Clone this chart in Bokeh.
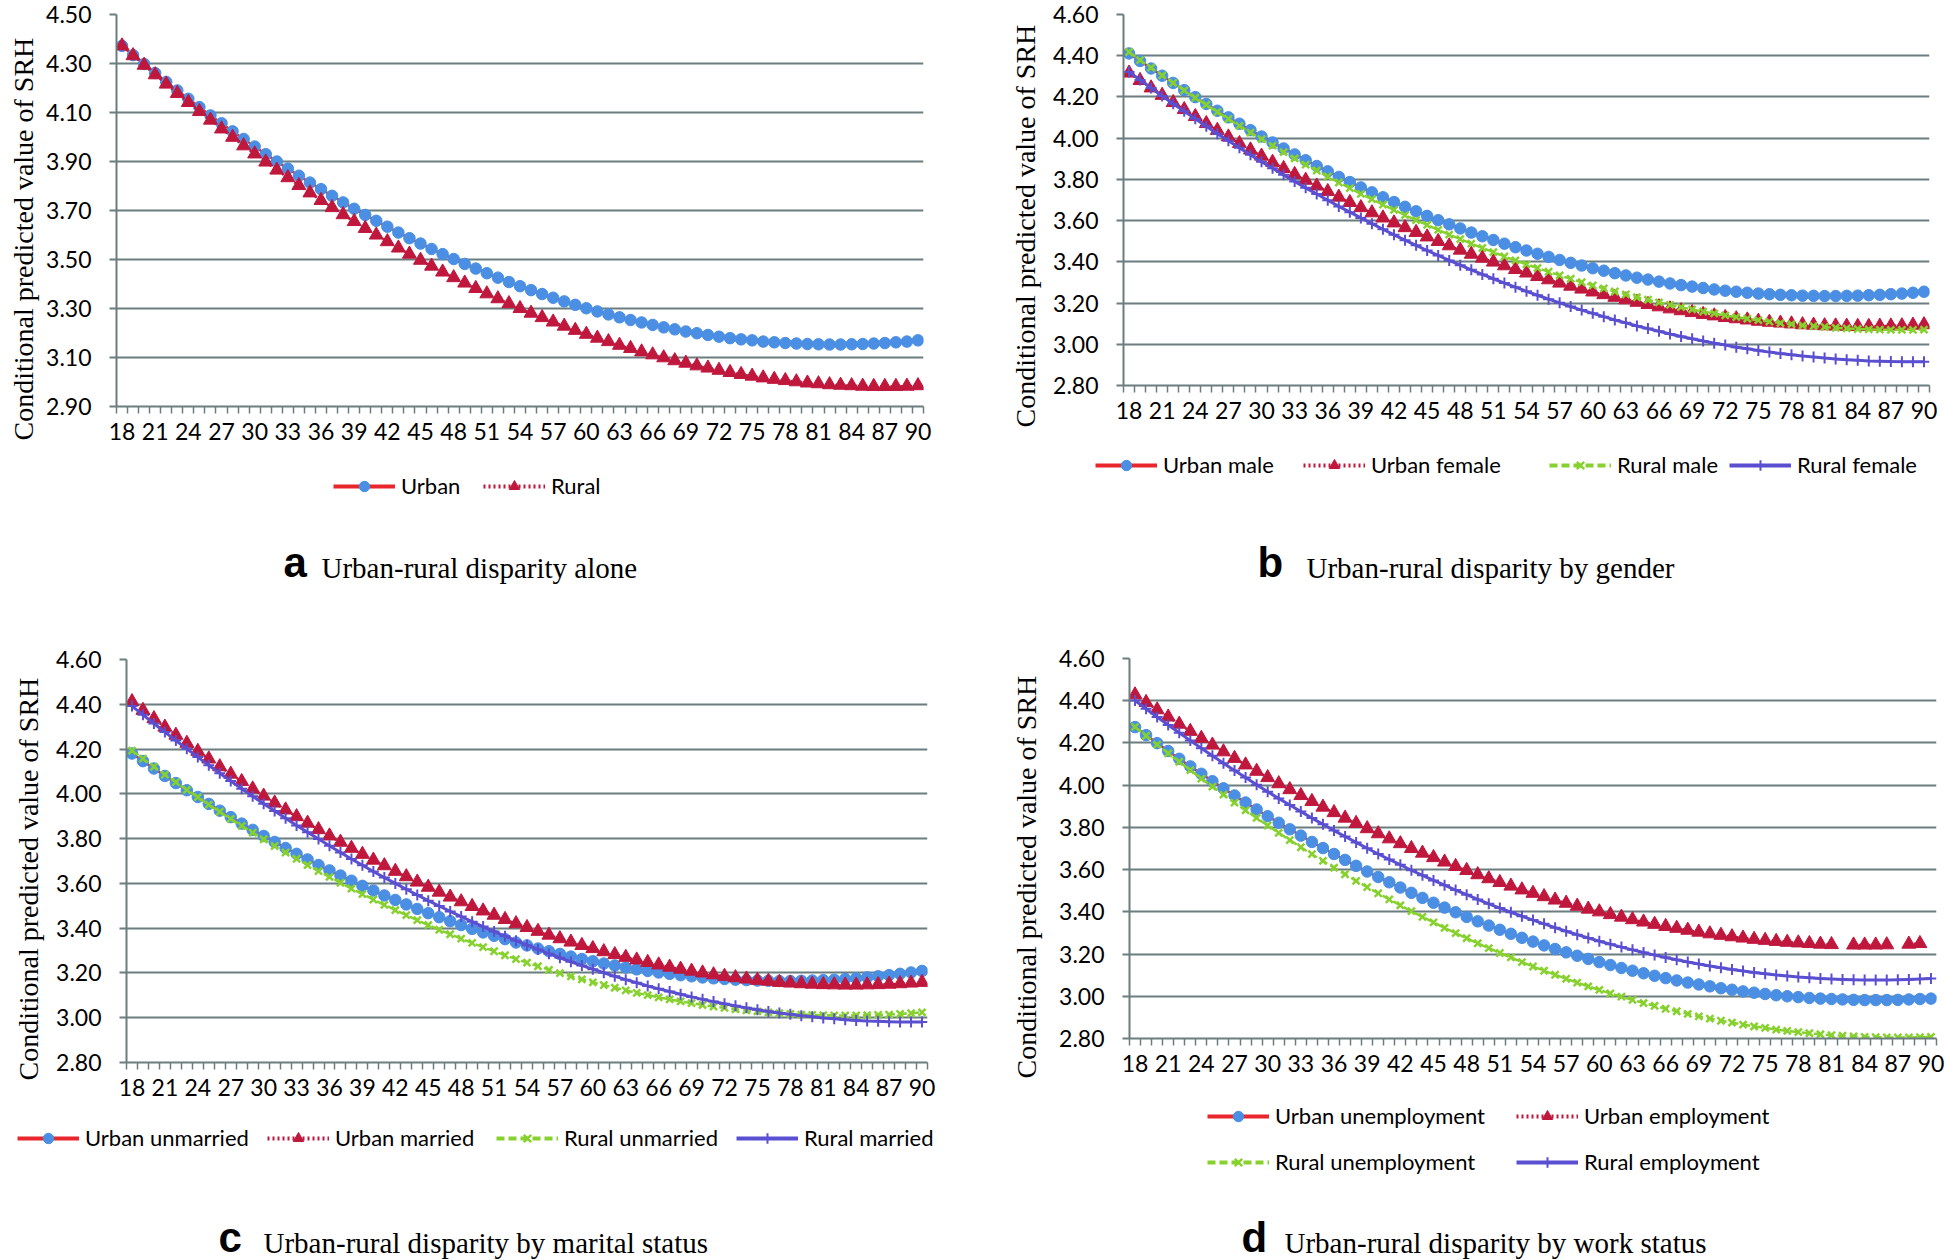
from bokeh.plotting import figure
from bokeh.models import (ColumnDataSource, Range1d, FixedTicker, NumeralTickFormatter,
                          Legend, LegendItem, Title)
from bokeh.core.properties import value
from bokeh.layouts import row, column
from bokeh.embed import file_html
from bokeh.resources import INLINE

nan = float("nan")

# ---------------- data ----------------
ages = list(range(18, 91))
x_tick_labels = [18, 21, 24, 27, 30, 33, 36, 39, 42, 45, 48, 51, 54, 57, 60, 63,
                 66, 69, 72, 75, 78, 81, 84, 87, 90]
y_ticks_a = [2.90, 3.10, 3.30, 3.50, 3.70, 3.90, 4.10, 4.30, 4.50]
y_ticks_bcd = [2.80, 3.00, 3.20, 3.40, 3.60, 3.80, 4.00, 4.20, 4.40, 4.60]

names_a = ["Urban", "Rural"]
names_b = ["Urban male", "Urban female", "Rural male", "Rural female"]
names_c = ["Urban unmarried", "Urban married", "Rural unmarried", "Rural married"]
names_d = ["Urban unemployment", "Urban employment", "Rural unemployment", "Rural employment"]

captions = [("a", "Urban-rural disparity alone"),
            ("b", "Urban-rural disparity by gender"),
            ("c", "Urban-rural disparity by marital status"),
            ("d", "Urban-rural disparity by work status")]
y_title = "Conditional predicted value of SRH"

# panel a
a_urban = [4.372, 4.334, 4.298, 4.261, 4.225, 4.190, 4.156, 4.122, 4.088, 4.056,
           4.023, 3.992, 3.961, 3.930, 3.900, 3.871, 3.842, 3.814, 3.787, 3.760,
           3.733, 3.707, 3.682, 3.658, 3.634, 3.610, 3.587, 3.565, 3.543, 3.522,
           3.502, 3.482, 3.463, 3.444, 3.426, 3.408, 3.391, 3.375, 3.359, 3.344,
           3.329, 3.315, 3.301, 3.288, 3.276, 3.264, 3.253, 3.243, 3.233, 3.223,
           3.215, 3.206, 3.199, 3.192, 3.185, 3.179, 3.174, 3.170, 3.165, 3.162,
           3.159, 3.157, 3.155, 3.154, 3.153, 3.153, 3.154, 3.155, 3.157, 3.159,
           3.162, 3.165, 3.170]
a_rural = [4.372, 4.332, 4.293, 4.254, 4.216, 4.178, 4.141, 4.104, 4.069, 4.033,
           3.999, 3.964, 3.931, 3.898, 3.865, 3.834, 3.802, 3.772, 3.741, 3.712,
           3.683, 3.655, 3.627, 3.600, 3.573, 3.547, 3.522, 3.497, 3.473, 3.449,
           3.426, 3.404, 3.382, 3.360, 3.340, 3.320, 3.300, 3.281, 3.263, 3.245,
           3.228, 3.211, 3.195, 3.179, 3.165, 3.150, 3.137, 3.123, 3.111, 3.099,
           3.087, 3.077, 3.066, 3.057, 3.048, 3.039, 3.031, 3.024, 3.017, 3.011,
           3.006, 3.001, 2.996, 2.993, 2.989, 2.987, 2.985, 2.983, 2.982, 2.982,
           2.982, 2.983, 2.985]

# panel b
b_urban_male = [4.411, 4.375, 4.338, 4.303, 4.268, 4.233, 4.199, 4.166, 4.133, 4.101,
                4.070, 4.039, 4.008, 3.979, 3.950, 3.921, 3.893, 3.865, 3.839, 3.812,
                3.787, 3.761, 3.737, 3.713, 3.690, 3.667, 3.645, 3.623, 3.602, 3.582,
                3.562, 3.542, 3.524, 3.506, 3.488, 3.471, 3.455, 3.439, 3.424, 3.409,
                3.395, 3.382, 3.369, 3.357, 3.345, 3.334, 3.323, 3.314, 3.304, 3.295,
                3.287, 3.280, 3.273, 3.266, 3.260, 3.255, 3.250, 3.246, 3.243, 3.240,
                3.238, 3.236, 3.235, 3.234, 3.234, 3.235, 3.236, 3.238, 3.240, 3.243,
                3.246, 3.250, 3.255]
b_urban_female = [4.316, 4.280, 4.244, 4.208, 4.173, 4.139, 4.105, 4.071, 4.038, 4.006,
                  3.974, 3.943, 3.913, 3.883, 3.853, 3.824, 3.796, 3.768, 3.741, 3.714,
                  3.688, 3.663, 3.638, 3.613, 3.589, 3.566, 3.543, 3.521, 3.499, 3.478,
                  3.457, 3.437, 3.418, 3.399, 3.381, 3.363, 3.346, 3.329, 3.313, 3.297,
                  3.282, 3.268, 3.254, 3.241, 3.228, 3.216, 3.204, 3.193, 3.182, 3.172,
                  3.163, 3.154, 3.145, 3.138, 3.130, 3.124, 3.118, 3.112, 3.107, 3.103,
                  3.099, 3.095, 3.093, 3.090, 3.089, 3.088, 3.087, 3.087, 3.088, 3.089,
                  3.090, 3.093, 3.095]
b_rural_male = [4.418, 4.379, 4.342, 4.305, 4.268, 4.232, 4.196, 4.162, 4.127, 4.093,
                4.060, 4.027, 3.995, 3.964, 3.932, 3.902, 3.872, 3.843, 3.814, 3.785,
                3.758, 3.730, 3.704, 3.678, 3.652, 3.627, 3.602, 3.579, 3.555, 3.532,
                3.510, 3.488, 3.467, 3.447, 3.426, 3.407, 3.388, 3.370, 3.352, 3.334,
                3.318, 3.301, 3.286, 3.271, 3.256, 3.242, 3.228, 3.216, 3.203, 3.191,
                3.180, 3.169, 3.159, 3.150, 3.140, 3.132, 3.124, 3.117, 3.110, 3.103,
                3.098, 3.092, 3.088, 3.084, 3.080, 3.077, 3.074, 3.072, 3.071, 3.070,
                3.070, 3.070, 3.071]
b_rural_female = [4.321, 4.282, 4.243, 4.205, 4.167, 4.130, 4.094, 4.058, 4.022, 3.988,
                  3.953, 3.919, 3.886, 3.854, 3.822, 3.790, 3.759, 3.729, 3.699, 3.669,
                  3.641, 3.613, 3.585, 3.558, 3.531, 3.505, 3.480, 3.455, 3.431, 3.407,
                  3.384, 3.361, 3.339, 3.318, 3.297, 3.277, 3.257, 3.238, 3.219, 3.201,
                  3.183, 3.166, 3.150, 3.134, 3.118, 3.104, 3.089, 3.076, 3.063, 3.050,
                  3.038, 3.027, 3.016, 3.005, 2.996, 2.986, 2.978, 2.970, 2.962, 2.955,
                  2.949, 2.943, 2.938, 2.933, 2.929, 2.925, 2.922, 2.919, 2.918, 2.916,
                  2.915, 2.915, 2.915]

# panel c
c_urban_unmarried = [4.180, 4.146, 4.113, 4.080, 4.048, 4.016, 3.986, 3.955, 3.925, 3.896,
                     3.867, 3.839, 3.812, 3.785, 3.758, 3.732, 3.707, 3.682, 3.658, 3.635,
                     3.612, 3.589, 3.568, 3.546, 3.526, 3.506, 3.486, 3.467, 3.449, 3.431,
                     3.414, 3.397, 3.381, 3.366, 3.351, 3.336, 3.323, 3.309, 3.297, 3.285,
                     3.273, 3.262, 3.252, 3.242, 3.233, 3.224, 3.216, 3.209, 3.202, 3.196,
                     3.190, 3.185, 3.180, 3.176, 3.173, 3.170, 3.168, 3.166, 3.165, 3.164,
                     3.164, 3.165, 3.166, 3.168, 3.170, 3.173, 3.176, 3.180, 3.185, 3.190,
                     3.196, 3.202, 3.209]
c_urban_married = [4.412, 4.373, 4.336, 4.298, 4.262, 4.226, 4.190, 4.156, 4.121, 4.088,
                   4.055, 4.022, 3.990, 3.959, 3.928, 3.898, 3.869, 3.840, 3.812, 3.784,
                   3.757, 3.730, 3.704, 3.679, 3.654, 3.630, 3.606, 3.583, 3.561, 3.539,
                   3.518, 3.497, 3.477, 3.458, 3.439, 3.420, 3.403, 3.386, 3.369, 3.353,
                   3.338, 3.323, 3.309, 3.295, 3.282, 3.270, 3.258, 3.247, 3.236, 3.226,
                   3.217, 3.208, 3.200, 3.192, 3.185, 3.179, 3.173, 3.167, 3.163, 3.158,
                   3.155, 3.152, 3.150, 3.148, 3.147, 3.146, 3.146, 3.147, 3.148, 3.150,
                   3.152, 3.155, 3.158]
c_rural_unmarried = [4.193, 4.157, 4.121, 4.086, 4.052, 4.018, 3.985, 3.952, 3.920, 3.888,
                     3.857, 3.827, 3.797, 3.767, 3.738, 3.710, 3.682, 3.655, 3.629, 3.603,
                     3.577, 3.552, 3.528, 3.504, 3.481, 3.458, 3.436, 3.414, 3.393, 3.373,
                     3.353, 3.334, 3.315, 3.297, 3.279, 3.262, 3.246, 3.230, 3.214, 3.199,
                     3.185, 3.171, 3.158, 3.146, 3.134, 3.122, 3.111, 3.101, 3.091, 3.082,
                     3.073, 3.065, 3.057, 3.050, 3.044, 3.038, 3.033, 3.028, 3.024, 3.020,
                     3.017, 3.014, 3.013, 3.011, 3.010, 3.010, 3.010, 3.011, 3.013, 3.014,
                     3.017, 3.020, 3.024]
c_rural_married = [4.392, 4.353, 4.314, 4.276, 4.238, 4.201, 4.164, 4.128, 4.092, 4.057,
                   4.023, 3.989, 3.956, 3.923, 3.891, 3.859, 3.828, 3.798, 3.768, 3.738,
                   3.709, 3.681, 3.653, 3.626, 3.600, 3.574, 3.548, 3.523, 3.499, 3.475,
                   3.452, 3.429, 3.407, 3.385, 3.364, 3.344, 3.324, 3.305, 3.286, 3.268,
                   3.250, 3.233, 3.217, 3.201, 3.185, 3.170, 3.156, 3.142, 3.129, 3.117,
                   3.105, 3.093, 3.082, 3.072, 3.062, 3.053, 3.044, 3.036, 3.028, 3.021,
                   3.015, 3.009, 3.004, 2.999, 2.995, 2.991, 2.988, 2.985, 2.984, 2.982,
                   2.981, 2.981, 2.981]

# panel d
d_urban_unemp = [4.275, 4.237, 4.199, 4.162, 4.125, 4.089, 4.054, 4.019, 3.985, 3.951,
                 3.918, 3.885, 3.853, 3.822, 3.791, 3.761, 3.731, 3.702, 3.674, 3.646,
                 3.618, 3.591, 3.565, 3.540, 3.515, 3.490, 3.466, 3.443, 3.420, 3.398,
                 3.376, 3.355, 3.335, 3.315, 3.296, 3.277, 3.259, 3.241, 3.224, 3.208,
                 3.192, 3.177, 3.162, 3.148, 3.134, 3.121, 3.109, 3.097, 3.086, 3.075,
                 3.065, 3.056, 3.047, 3.038, 3.031, 3.023, 3.017, 3.011, 3.005, 3.000,
                 2.996, 2.992, 2.989, 2.987, 2.985, 2.983, 2.982, 2.982, 2.982, 2.983,
                 2.985, 2.987, 2.989]
d_urban_emp = [4.428, 4.392, 4.357, 4.323, 4.289, 4.255, 4.222, 4.190, 4.158, 4.127,
               4.096, 4.066, 4.036, 4.007, 3.979, 3.951, 3.923, 3.896, 3.870, 3.844,
               3.819, 3.794, 3.770, 3.746, 3.723, 3.700, 3.678, 3.657, 3.636, 3.615,
               3.596, 3.576, 3.557, 3.539, 3.522, 3.504, 3.488, 3.472, 3.456, 3.441,
               3.427, 3.413, 3.400, 3.387, 3.375, 3.363, 3.352, 3.341, 3.331, 3.322,
               3.313, 3.304, 3.296, 3.289, 3.282, 3.276, 3.270, 3.265, 3.260, 3.256,
               3.253, 3.250, 3.247, 3.245, nan, 3.243, 3.243, 3.243, 3.244, nan,
               3.247, 3.250, nan]
d_rural_unemp = [4.276, 4.234, 4.192, 4.151, 4.111, 4.071, 4.031, 3.993, 3.955, 3.917,
                 3.881, 3.845, 3.809, 3.774, 3.740, 3.706, 3.673, 3.641, 3.609, 3.578,
                 3.547, 3.517, 3.488, 3.459, 3.431, 3.403, 3.376, 3.350, 3.324, 3.299,
                 3.275, 3.251, 3.228, 3.205, 3.184, 3.162, 3.141, 3.121, 3.102, 3.083,
                 3.065, 3.047, 3.030, 3.014, 2.998, 2.983, 2.968, 2.955, 2.941, 2.929,
                 2.917, 2.905, 2.894, 2.884, 2.875, 2.866, 2.857, 2.850, 2.842, 2.836,
                 2.830, 2.825, 2.820, 2.816, 2.813, 2.810, 2.808, 2.806, 2.805, 2.805,
                 2.805, 2.806, 2.808]
d_rural_emp = [4.401, 4.362, 4.323, 4.285, 4.248, 4.211, 4.175, 4.139, 4.104, 4.069,
               4.036, 4.002, 3.969, 3.937, 3.906, 3.875, 3.844, 3.815, 3.785, 3.757,
               3.729, 3.701, 3.674, 3.648, 3.623, 3.597, 3.573, 3.549, 3.526, 3.503,
               3.481, 3.459, 3.438, 3.418, 3.398, 3.379, 3.361, 3.343, 3.325, 3.308,
               3.292, 3.276, 3.261, 3.247, 3.233, 3.220, 3.207, 3.195, 3.184, 3.173,
               3.162, 3.153, 3.143, 3.135, 3.127, 3.120, 3.113, 3.107, 3.101, 3.096,
               3.091, 3.088, 3.084, 3.082, 3.080, 3.078, 3.077, 3.077, 3.077, 3.078,
               3.080, 3.082, 3.084]

# ---------------- styling ----------------
GRID = "#6B7D7E"
NUM_FONT = "Lato"
SERIF = "Liberation Serif"
SANS = "Liberation Sans"
LEG_H = 26

STYLES = [
    dict(line_color="#E8262B", line_dash="solid", line_width=2.5, marker="circle",
         color="#4A8FE3", size=11.5, mlw=1),
    dict(line_color="#C0173D", line_dash="2 3", line_width=2.5, marker="triangle",
         color="#C0173D", size=14, mlw=1),
    dict(line_color="#87D12F", line_dash="8 4", line_width=2.5, marker="x",
         color="#87D12F", size=10, mlw=2.5),
    dict(line_color="#5B4FD1", line_dash="solid", line_width=3, marker="cross",
         color="#5B4FD1", size=11, mlw=2),
]


def blank_fig(width, height):
    f = figure(width=width, height=height, output_backend="svg", toolbar_location=None,
               x_range=Range1d(0, width), y_range=Range1d(height, 0),
               x_axis_location=None, y_axis_location=None,
               min_border=0, min_border_left=0, min_border_right=0,
               min_border_top=0, min_border_bottom=0)
    f.outline_line_color = None
    f.grid.visible = False
    f.background_fill_color = "white"
    f.border_fill_color = "white"
    return f


def make_panel(cfg, y_range, y_ticks, series, names, caption):
    W, H, mh = cfg["W"], cfg["H"], cfg["mh"]
    left, top, right, bottom = cfg["frame"]

    p = figure(width=W, height=mh, output_backend="svg", toolbar_location=None,
               x_range=Range1d(17.5, 90.5), y_range=Range1d(y_range[0], y_range[1]),
               min_border_left=left, min_border_right=W - right,
               min_border_top=top, min_border_bottom=mh - bottom)
    p.outline_line_color = None
    p.background_fill_color = "white"
    p.border_fill_color = "white"
    p.xgrid.visible = False
    p.ygrid.ticker = FixedTicker(ticks=y_ticks)
    p.ygrid.grid_line_color = GRID
    p.ygrid.grid_line_width = 2

    p.yaxis.ticker = FixedTicker(ticks=y_ticks)
    p.yaxis.formatter = NumeralTickFormatter(format="0.00")
    p.yaxis.major_label_text_font = NUM_FONT
    p.yaxis.major_label_text_font_size = "23px"
    p.yaxis.major_label_text_color = "black"
    p.yaxis.major_label_standoff = 18
    p.yaxis.major_tick_out = 7
    p.yaxis.major_tick_in = 0
    p.yaxis.major_tick_line_color = GRID
    p.yaxis.major_tick_line_width = 2
    p.yaxis.minor_tick_line_color = None
    p.yaxis.axis_line_color = GRID
    p.yaxis.axis_line_width = 2

    # vertical title to the left of the value axis (starts a little below the frame)
    p.add_layout(Title(text=y_title, text_font=SERIF, text_font_size="28px",
                       text_font_style="normal", text_color="black", align="left",
                       offset=cfg["title_offset"], standoff=cfg["title_standoff"]),
                 "left")

    bounds = [a - 0.5 for a in ages] + [ages[-1] + 0.5]
    p.xaxis.ticker = FixedTicker(ticks=x_tick_labels, minor_ticks=bounds)
    p.xaxis.major_label_text_font = NUM_FONT
    p.xaxis.major_label_text_font_size = "23px"
    p.xaxis.major_label_text_color = "black"
    p.xaxis.major_label_standoff = 9
    p.xaxis.major_tick_out = 7
    p.xaxis.major_tick_in = 0
    p.xaxis.major_tick_line_color = None
    p.xaxis.minor_tick_out = 7
    p.xaxis.minor_tick_in = 0
    p.xaxis.minor_tick_line_color = GRID
    p.xaxis.minor_tick_line_width = 1.5
    p.xaxis.axis_line_color = GRID
    p.xaxis.axis_line_width = 2

    for ys, st in zip(series, STYLES):
        assert len(ys) == len(ages)
        src = ColumnDataSource(data=dict(age=ages, value=ys))
        p.line("age", "value", source=src, line_color=st["line_color"],
               line_width=st["line_width"], line_dash=st["line_dash"])
        p.scatter("age", "value", source=src, marker=st["marker"], size=st["size"],
                  fill_color=st["color"], line_color=st["color"], line_width=st["mlw"])

    # --- footer: legend keys + caption ---
    fh = H - mh
    ff = blank_fig(W, fh)
    off = [-1000]  # legend-key renderers sit outside the visible range
    for name, st, (lx, lyc) in zip(names, STYLES, cfg["legend"]):
        ln = ff.line(x=off, y=off, line_color=st["line_color"], line_width=4,
                     line_dash=st["line_dash"])
        mk = ff.scatter(x=off, y=off, marker=st["marker"], fill_color=st["color"],
                        line_color=st["color"], line_width=st["mlw"])
        leg = Legend(items=[LegendItem(label=name, renderers=[ln, mk])],
                     location=(lx, fh - lyc - LEG_H / 2),
                     orientation="horizontal", padding=0, margin=0, spacing=0,
                     glyph_width=62, glyph_height=LEG_H, label_standoff=6,
                     label_text_font=NUM_FONT, label_text_font_size="22px",
                     label_text_color="black", background_fill_alpha=0,
                     border_line_color=None)
        ff.add_layout(leg)
    letter, text = caption
    lx, tx, cy = cfg["caption"]
    ff.text(x=[lx], y=[cy - 5], text=[letter], text_font=value(SANS),
            text_font_style=value("bold"), text_font_size=value("42px"),
            text_baseline=value("middle"), text_align=value("left"),
            text_color="black")
    ff.text(x=[tx], y=[cy], text=[text], text_font=value(SERIF),
            text_font_size=value("29px"), text_baseline=value("middle"),
            text_align=value("left"), text_color="black")

    return column(row(p), ff)


CFG_A = dict(W=960, H=600, mh=452, frame=(115, 14, 923, 406),
             title_standoff=10, title_offset=-34,
             legend=[(333, 34), (483, 34)], caption=(283, 321, 115))
CFG_B = dict(W=986, H=600, mh=431, frame=(163, 14, 969, 385),
             title_standoff=20, title_offset=-42,
             legend=[(135, 34), (343, 34), (589, 34), (769, 34)],
             caption=(297, 346, 136))
CFG_C = dict(W=960, H=660, mh=508, frame=(125, 59, 927, 462),
             title_standoff=20, title_offset=-18,
             legend=[(17, 30), (267, 30), (496, 30), (736, 30)],
             caption=(218, 263, 134))
CFG_D = dict(W=986, H=660, mh=484, frame=(169, 58, 976, 438),
             title_standoff=29, title_offset=-40,
             legend=[(247, 32), (556, 32), (247, 78), (556, 78)],
             caption=(281, 324, 158))

pa = make_panel(CFG_A, (2.9, 4.5), y_ticks_a, [a_urban, a_rural], names_a, captions[0])
pb = make_panel(CFG_B, (2.8, 4.6), y_ticks_bcd,
                [b_urban_male, b_urban_female, b_rural_male, b_rural_female],
                names_b, captions[1])
pc = make_panel(CFG_C, (2.8, 4.6), y_ticks_bcd,
                [c_urban_unmarried, c_urban_married, c_rural_unmarried, c_rural_married],
                names_c, captions[2])
pd_ = make_panel(CFG_D, (2.8, 4.6), y_ticks_bcd,
                 [d_urban_unemp, d_urban_emp, d_rural_unemp, d_rural_emp],
                 names_d, captions[3])

layout = row(column(pa, pc), column(pb, pd_))
open("out.html", "w").write(file_html(layout, INLINE))
